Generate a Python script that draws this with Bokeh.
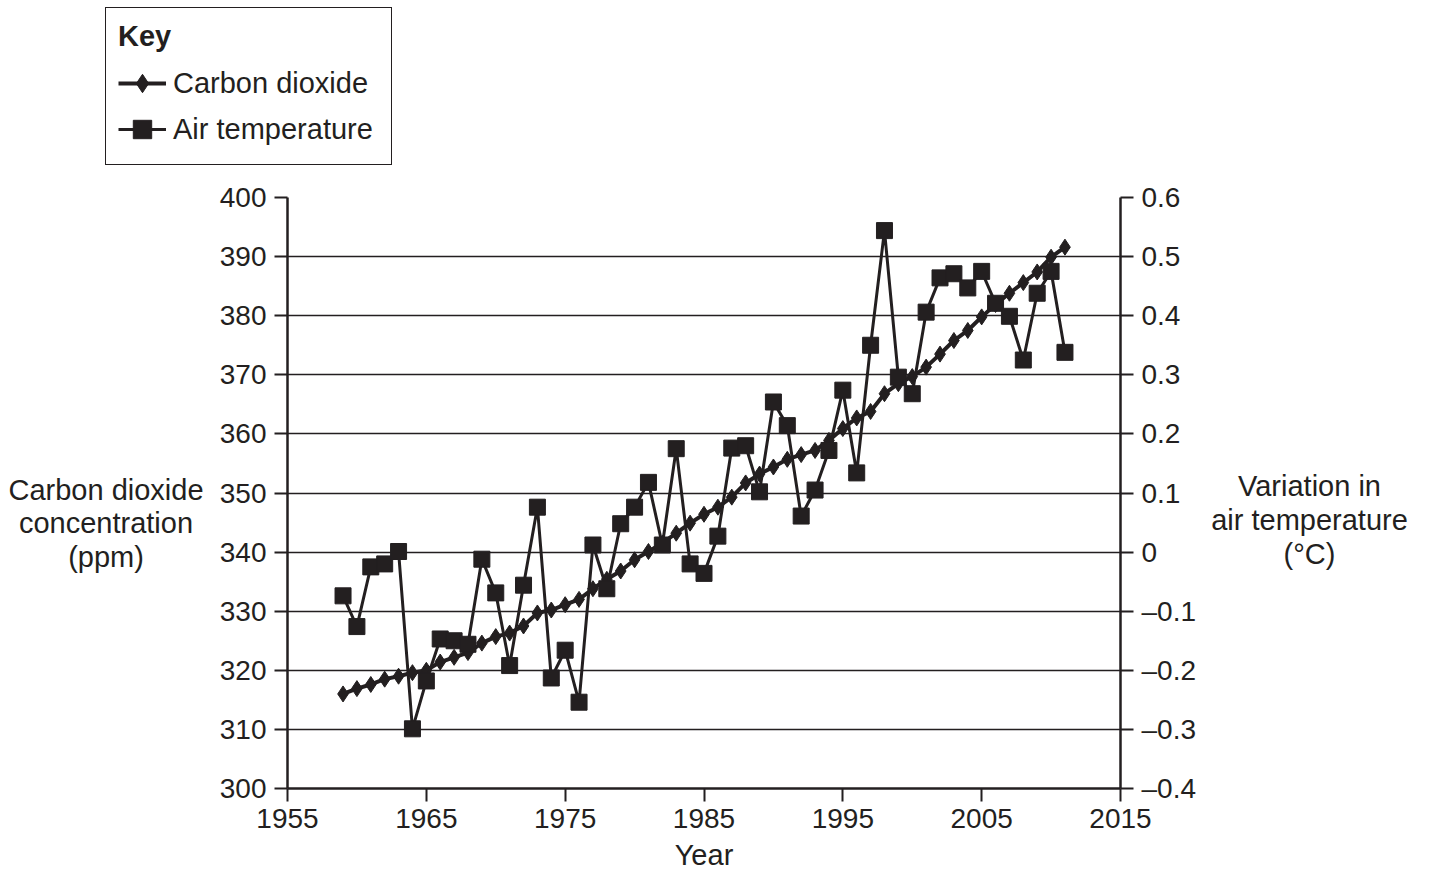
from bokeh.plotting import figure
from bokeh.layouts import column, row
from bokeh.models import Range1d, LinearAxis, FixedTicker, Legend, LegendItem, Label
from bokeh.embed import file_html
from bokeh.resources import INLINE

# ---------------- data ----------------
years = list(range(1959, 2012))

co2_ppm = [316.0, 316.9, 317.6, 318.5, 319.0, 319.6, 320.0, 321.4, 322.2, 323.0,
           324.6, 325.7, 326.3, 327.5, 329.7, 330.2, 331.1, 332.0, 333.8, 335.4,
           336.8, 338.7, 340.1, 341.5, 343.2, 344.9, 346.4, 347.6, 349.3, 351.7,
           353.2, 354.4, 355.7, 356.5, 357.2, 358.9, 360.9, 362.7, 363.8, 366.8,
           368.5, 369.7, 371.3, 373.5, 375.8, 377.5, 379.8, 381.9, 383.8, 385.6,
           387.4, 389.9, 391.6]

temp_variation = [-0.074, -0.126, -0.025, -0.020, 0.001, -0.299, -0.218, -0.147, -0.150, -0.156,
                  -0.012, -0.069, -0.192, -0.056, 0.076, -0.213, -0.166, -0.254, 0.012, -0.062,
                  0.048, 0.076, 0.118, 0.012, 0.175, -0.020, -0.036, 0.027, 0.176, 0.180,
                  0.102, 0.254, 0.214, 0.061, 0.105, 0.172, 0.274, 0.134, 0.350, 0.544,
                  0.296, 0.268, 0.406, 0.464, 0.471, 0.447, 0.475, 0.421, 0.399, 0.325,
                  0.438, 0.475, 0.338]

year_ticks = [1955, 1965, 1975, 1985, 1995, 2005, 2015]
co2_ticks = [300, 310, 320, 330, 340, 350, 360, 370, 380, 390, 400]
temp_ticks = [-0.4, -0.3, -0.2, -0.1, 0.0, 0.1, 0.2, 0.3, 0.4, 0.5, 0.6]
temp_tick_labels = ["\u20130.4", "\u20130.3", "\u20130.2", "\u20130.1", "0",
                    "0.1", "0.2", "0.3", "0.4", "0.5", "0.6"]

left_label_lines = ["Carbon dioxide", "concentration", "(ppm)"]
right_label_lines = ["Variation in", "air temperature", "(\u00b0C)"]
x_label = "Year"
key_title = "Key"
series_names = ["Carbon dioxide", "Air temperature"]

# ---------------- style / layout sizes ----------------
INK = "#231f20"
FONT = "Liberation Sans"
TICK_FS = "28px"
LABEL_FS = "29px"
W, H = 1429, 873
TOP_H = 170            # strip holding the key
ROW_H = H - TOP_H
LEFT_W = 212           # strip holding the left axis title
P_BL, P_BR = 75, 85    # borders of the main chart inside its own canvas
FRAME_W = 833
P_W = P_BL + FRAME_W + P_BR
RIGHT_W = W - LEFT_W - P_W


def bare_figure(width, height):
    f = figure(width=width, height=height, output_backend="svg", toolbar_location=None,
               x_range=Range1d(0, 1), y_range=Range1d(0, 1),
               x_axis_type=None, y_axis_type=None,
               min_border_left=0, min_border_right=0, min_border_top=0, min_border_bottom=0)
    f.outline_line_color = None
    f.xgrid.grid_line_color = None
    f.ygrid.grid_line_color = None
    f.border_fill_color = "white"
    f.background_fill_color = "white"
    f.frame_align = False
    return f


# ---------------- main chart ----------------
p = figure(width=P_W, height=ROW_H, output_backend="svg", toolbar_location=None,
           x_range=Range1d(1955, 2015), y_range=Range1d(300, 400),
           min_border_left=P_BL, min_border_right=P_BR, min_border_top=197 - TOP_H,
           min_border_bottom=85)
p.frame_align = False
p.extra_y_ranges = {"temp": Range1d(-0.4, 0.6)}
p.outline_line_color = None
p.background_fill_color = "white"
p.border_fill_color = "white"

p.xgrid.grid_line_color = None
p.ygrid.grid_line_color = INK
p.ygrid.grid_line_width = 1.4
p.ygrid.ticker = FixedTicker(ticks=co2_ticks)


def style_axis(ax):
    ax.axis_line_color = INK
    ax.axis_line_width = 2.5
    ax.major_tick_line_color = INK
    ax.major_tick_line_width = 2
    ax.minor_tick_line_color = None
    ax.major_tick_in = 0
    ax.major_tick_out = 13
    ax.major_label_text_font = FONT
    ax.major_label_text_font_size = TICK_FS
    ax.major_label_text_color = INK
    ax.axis_label_text_font = FONT
    ax.axis_label_text_font_size = LABEL_FS
    ax.axis_label_text_font_style = "normal"
    ax.axis_label_text_color = INK


xa = p.xaxis[0]
style_axis(xa)
xa.ticker = FixedTicker(ticks=year_ticks)
xa.major_label_standoff = 7
xa.axis_label = x_label
xa.axis_label_standoff = 8

ya = p.yaxis[0]
style_axis(ya)
ya.ticker = FixedTicker(ticks=co2_ticks)
ya.major_label_standoff = 8

ra = LinearAxis(y_range_name="temp")
style_axis(ra)
ra.ticker = FixedTicker(ticks=temp_ticks)
ra.major_label_overrides = {t: s for t, s in zip(temp_ticks, temp_tick_labels)}
ra.major_label_standoff = 8
p.add_layout(ra, "right")


def draw_series(fig, extra=True):
    l1 = fig.line(years, co2_ppm, line_color=INK, line_width=4)
    s1 = fig.scatter(years, co2_ppm, marker="diamond", size=16,
                     fill_color=INK, line_color=INK, line_width=1)
    kw = {"y_range_name": "temp"} if extra else {}
    l2 = fig.line(years, temp_variation, line_color=INK, line_width=3, **kw)
    s2 = fig.scatter(years, temp_variation, marker="square", size=16,
                     fill_color=INK, line_color=INK, line_width=1, **kw)
    return l1, s1, l2, s2


draw_series(p)

# ---------------- key (legend) strip above the chart ----------------
k = bare_figure(W, TOP_H)
kl1, ks1, kl2, ks2 = draw_series(k, extra=False)   # out of view; they only feed the key glyphs

legend = Legend(items=[LegendItem(label=series_names[0], renderers=[kl1, ks1]),
                       LegendItem(label=series_names[1], renderers=[kl2, ks2])],
                location=(105, 5), title=key_title,
                title_text_font=FONT, title_text_font_size=LABEL_FS,
                title_text_font_style="bold", title_text_color=INK,
                label_text_font=FONT, label_text_font_size=LABEL_FS,
                label_text_color=INK, border_line_color=INK, border_line_width=1.5,
                border_line_alpha=1.0,
                background_fill_color="white", background_fill_alpha=1.0,
                padding=12, spacing=0, title_standoff=7, glyph_width=48,
                glyph_height=46, label_height=46, label_width=206,
                label_standoff=7, margin=0)
k.add_layout(legend)

# ---------------- axis-title strips ----------------
lf = bare_figure(LEFT_W, ROW_H)
for txt, py in zip(left_label_lines, [489, 522, 556]):
    lf.add_layout(Label(x=105.5, y=H - py, x_units="screen", y_units="screen",
                        text=txt, text_align="center", text_baseline="middle",
                        text_font=FONT, text_font_size=LABEL_FS, text_color=INK))

rf = bare_figure(RIGHT_W, ROW_H)
for txt, py in zip(right_label_lines, [485, 519, 553]):
    rf.add_layout(Label(x=1309 - (LEFT_W + P_W), y=H - py, x_units="screen", y_units="screen",
                        text=txt, text_align="center", text_baseline="middle",
                        text_font=FONT, text_font_size=LABEL_FS, text_color=INK))

layout = column(k, row(lf, p, rf, spacing=0), spacing=0)
open("out.html", "w").write(file_html(layout, INLINE))
